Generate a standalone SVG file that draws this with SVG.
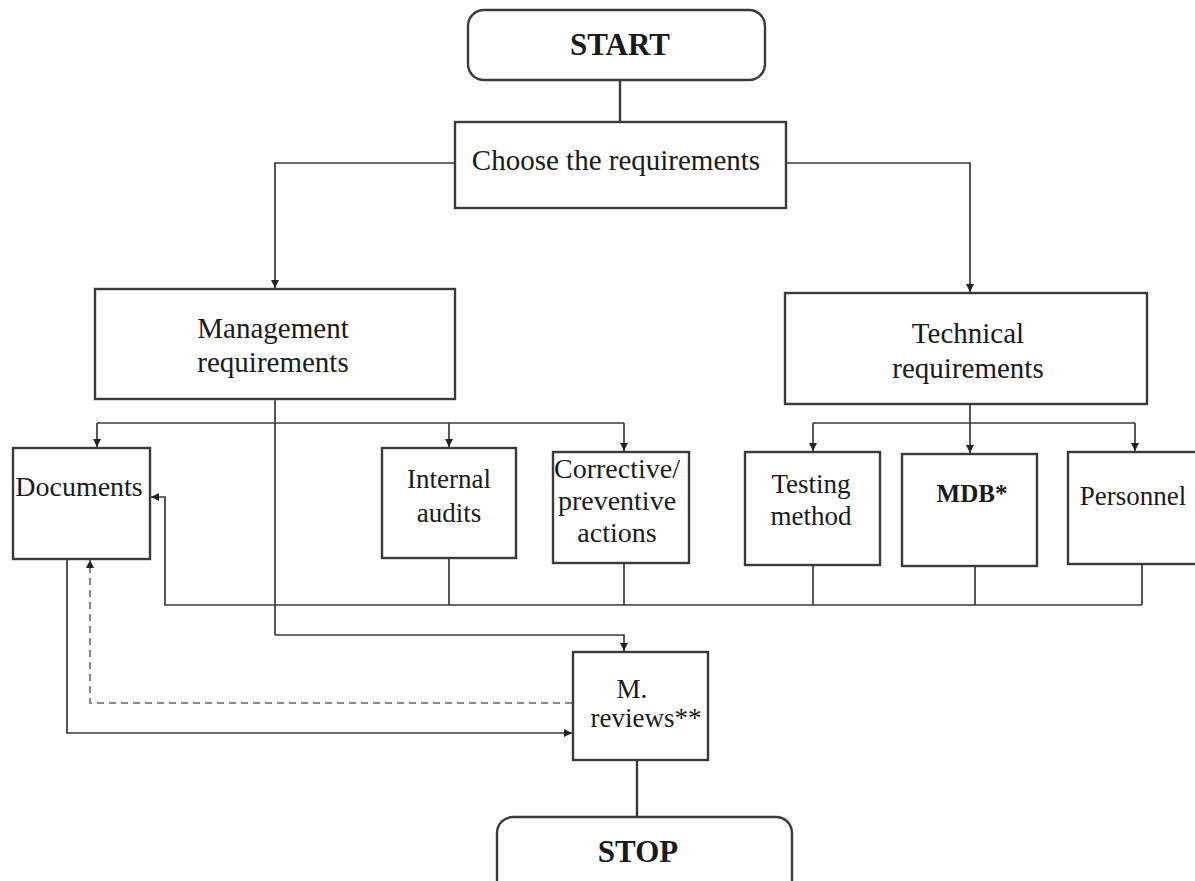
<svg xmlns="http://www.w3.org/2000/svg" width="1195" height="881" viewBox="0 0 1195 881">
<style>
.box{fill:#fff;stroke:#3a3a3a;stroke-width:2.4}
.t{font-family:"Liberation Serif","Times New Roman",serif;font-size:28px;fill:#1a1a1a;text-anchor:middle}
.b{font-weight:bold}
.ln{fill:none;stroke:#3a3a3a;stroke-width:1.7}
.ds{fill:none;stroke:#8a8a8a;stroke-width:2.2;stroke-dasharray:7 5}
</style>
<defs>
<marker id="ah" viewBox="0 0 10 10" refX="10" refY="5" markerWidth="8" markerHeight="8" orient="auto" markerUnits="userSpaceOnUse">
<path d="M0,0 L10,5 L0,10 z" fill="#222"/>
</marker>
</defs>
<rect width="1195" height="881" fill="#fff"/>
<g id="connectors">
<line class="ln" x1="620" y1="80" x2="620" y2="122" style="stroke-width:2.4"/>
<polyline class="ln" points="455,163 275,163 275,288" marker-end="url(#ah)"/>
<polyline class="ln" points="786,163 970,163 970,292" marker-end="url(#ah)"/>
<line class="ln" x1="275" y1="400" x2="275" y2="635"/>
<line class="ln" x1="97" y1="423" x2="624" y2="423"/>
<line class="ln" x1="97" y1="423" x2="97" y2="447" marker-end="url(#ah)"/>
<line class="ln" x1="449" y1="423" x2="449" y2="447" marker-end="url(#ah)"/>
<line class="ln" x1="624" y1="423" x2="624" y2="451" marker-end="url(#ah)"/>
<line class="ln" x1="970" y1="404" x2="970" y2="423"/>
<line class="ln" x1="813" y1="423" x2="1135" y2="423"/>
<line class="ln" x1="813" y1="423" x2="813" y2="451" marker-end="url(#ah)"/>
<line class="ln" x1="970" y1="423" x2="970" y2="453" marker-end="url(#ah)"/>
<line class="ln" x1="1135" y1="423" x2="1135" y2="451" marker-end="url(#ah)"/>
<line class="ln" x1="449" y1="558" x2="449" y2="605"/>
<line class="ln" x1="624" y1="563" x2="624" y2="605"/>
<line class="ln" x1="813" y1="565" x2="813" y2="605"/>
<line class="ln" x1="975" y1="566" x2="975" y2="605"/>
<line class="ln" x1="1142" y1="564" x2="1142" y2="605"/>
<polyline class="ln" points="1142,605 165,605 165,497 151,497" marker-end="url(#ah)"/>
<polyline class="ln" points="275,635 624,635 624,651" marker-end="url(#ah)"/>
<polyline class="ds" points="572,703 90,703 90,560" marker-end="url(#ah)"/>
<polyline class="ln" points="67,559 67,733 572,733" marker-end="url(#ah)"/>
<line class="ln" x1="637" y1="760" x2="637" y2="817" style="stroke-width:2.4"/>
</g>
<g id="start">
<rect class="box" x="468" y="10" width="297" height="70" rx="16"/>
<text class="t b" x="620" y="55" style="font-size:31px">START</text>
</g>
<g id="choose">
<rect class="box" x="455" y="122" width="331" height="86"/>
<text class="t" x="616" y="170" style="font-size:29px">Choose the requirements</text>
</g>
<g id="management">
<rect class="box" x="95" y="289" width="360" height="110"/>
<text class="t" x="273" y="338" style="font-size:29px">Management</text>
<text class="t" x="273" y="372" style="font-size:29px">requirements</text>
</g>
<g id="technical">
<rect class="box" x="785" y="293" width="362" height="111"/>
<text class="t" x="968" y="343" style="font-size:29px">Technical</text>
<text class="t" x="968" y="378" style="font-size:29px">requirements</text>
</g>
<g id="documents">
<rect class="box" x="13" y="448" width="137" height="111"/>
<text class="t" x="79" y="496">Documents</text>
</g>
<g id="internal-audits">
<rect class="box" x="382" y="448" width="134" height="110"/>
<text class="t" x="449" y="488" style="font-size:27px">Internal</text>
<text class="t" x="449" y="522" style="font-size:27px">audits</text>
</g>
<g id="corrective">
<rect class="box" x="553" y="452" width="136" height="111"/>
<text class="t" x="617" y="478">Corrective/</text>
<text class="t" x="617" y="510">preventive</text>
<text class="t" x="617" y="542">actions</text>
</g>
<g id="testing">
<rect class="box" x="745" y="452" width="135" height="113"/>
<text class="t" x="811" y="493" style="font-size:27px">Testing</text>
<text class="t" x="811" y="525" style="font-size:27px">method</text>
</g>
<g id="mdb">
<rect class="box" x="902" y="454" width="135" height="112"/>
<text class="t b" x="972" y="502" style="font-size:25px">MDB*</text>
</g>
<g id="personnel">
<rect class="box" x="1068" y="452" width="140" height="112"/>
<text class="t" x="1133" y="505" style="font-size:27px">Personnel</text>
</g>
<g id="m-reviews">
<rect class="box" x="573" y="652" width="135" height="108"/>
<text class="t" x="632" y="698" style="font-size:27px">M.</text>
<text class="t" x="646" y="727" style="font-size:27px">reviews**</text>
</g>
<g id="stop">
<rect class="box" x="497" y="817" width="295" height="90" rx="16"/>
<text class="t b" x="638" y="862" style="font-size:31px">STOP</text>
</g>
</svg>
